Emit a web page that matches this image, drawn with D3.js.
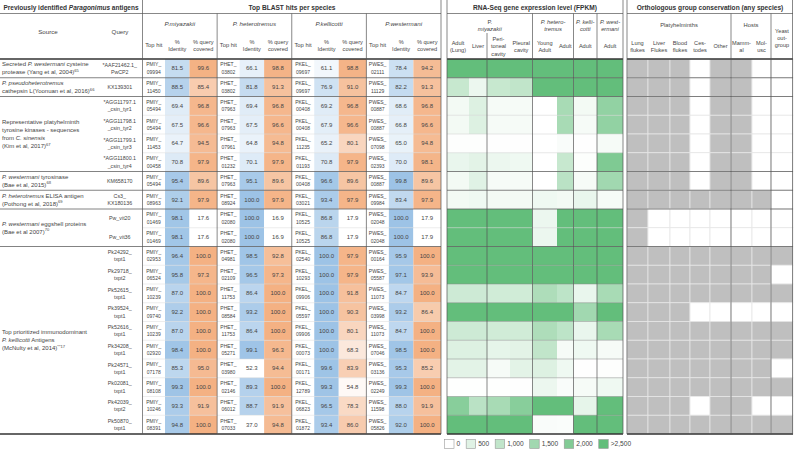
<!DOCTYPE html>
<html><head><meta charset="utf-8">
<script src="https://cdn.jsdelivr.net/npm/d3@7"></script>
<style>body{margin:0;background:#fff} svg{display:block;font-family:"Liberation Sans",Arial,sans-serif}</style>
</head><body><svg id="c" width="794" height="451"></svg>
<script>
// ---------------- DATA ----------------
const sourceLabels = [
  ["Secreted <i>P. westermani</i> cysteine", "protease (Yang et al, 2004)^65"],
  ["<i>P. pseudoheterotremus</i>", "cathepsin L(Yoonuan et al, 2016)^66"],
  ["Representative platyhelminth", "tyrosine kinases - sequences", "from <i>C. sinensis</i>", "(Kim et al, 2017)^67"],
  ["<i>P. westermani</i> tyrosinase", "(Bae et al, 2015)^68"],
  ["<i>P. heterotremus</i> ELISA antigen", "(Pothong et al, 2018)^69"],
  ["<i>P. westermani</i> eggshell proteins", "(Bae et al 2007)^70"],
  ["Top prioritized immunodominant", "<i>P. kellicotti</i> Antigens", "(McNulty et al, 2014)^**17"]
];
const sourceSpans = [1, 1, 4, 1, 1, 2, 10];
const queries = ["*AAF21462.1_|PwCP2", "KX139301", "*AGG11797.1|_csin_tyr1", "*AGG11798.1|_csin_tyr2",
  "*AGG11799.1|_csin_tyr3", "*AGG11800.1|_csin_tyr4", "KM658170", "Cs3_|KX180136", "Pw_vit20", "Pw_vit36",
  "Pk24292_|txpt1", "Pk29718_|txpt2", "Pk52615_|txpt1", "Pk39524_|txpt1", "Pk52616_|txpt1", "Pk34208_|txpt1",
  "Pk24571_|txpt1", "Pk02081_|txpt1", "Pk42039_|txpt2", "Pk50870_|txpt1"];

const speciesNames = ["P.miyazakii", "P. heterotremus", "P.kellicotti", "P.westermani"];
const hitPrefixes = ["PMIY_", "PHET_", "PKEL_", "PWES_"];

const miyHits = ["09994","11450","05494","05494","11453","00458","05494","08963","01469","01469","02953","06524","10239","09740","10239","02920","07178","08108","10246","08391"];
const miyIdentity = [81.5,88.5,69.4,67.5,64.7,70.8,95.4,92.1,98.1,98.1,96.4,95.8,87.0,92.2,87.0,98.4,85.3,99.3,93.3,94.8];
const miyCoverage = [99.6,85.4,96.8,96.6,94.5,97.9,89.6,97.9,17.6,17.6,100.0,97.3,100.0,100.0,100.0,100.0,95.0,100.0,91.9,100.0];

const hetHits = ["03802","03802","07963","07963","07961","01232","07963","08924","02080","02080","04981","02109","11753","08584","11753","05271","03980","02146","06012","07033"];
const hetIdentity = [66.1,81.8,69.4,67.5,64.8,70.1,95.1,100.0,100.0,100.0,98.5,96.5,86.4,93.2,86.4,99.1,52.3,89.3,88.7,37.0];
const hetCoverage = [98.8,91.3,96.8,96.6,94.8,97.9,89.6,97.9,16.9,16.9,92.8,97.3,100.0,100.0,100.0,96.3,94.4,100.0,91.9,94.8];

const kelHits = ["09697","09697","00408","00408","11235","01193","00408","03021","10525","10525","02540","10293","09906","05597","09906","00073","00171","12789","06823","01872"];
const kelIdentity = [61.1,76.9,69.2,67.9,65.2,70.8,96.6,93.4,86.8,86.8,100.0,100.0,100.0,100.0,100.0,100.0,99.6,99.3,96.5,93.4];
const kelCoverage = [98.8,91.0,96.8,96.6,80.1,97.9,89.6,97.9,17.9,17.9,97.9,97.9,91.8,90.3,80.1,68.3,83.9,54.8,78.3,86.0];

const wesHits = ["02111","11129","00887","00887","07098","02393","00887","09984","02048","02048","00164","05587","11073","03998","11073","07046","03136","02249","11598","05826"];
const wesIdentity = [78.4,82.2,68.6,66.8,65.0,70.0,99.8,83.4,100.0,100.0,95.9,97.1,84.7,93.2,84.7,98.5,95.3,99.3,88.0,92.0];
const wesCoverage = [94.2,91.3,96.8,96.6,94.8,98.1,89.6,97.9,17.9,17.9,100.0,93.9,100.0,86.4,100.0,100.0,85.2,100.0,91.9,100.0];

const rnaSpecies = [["P.", "<i>miyazakii</i>"], ["<i>P. hetero-</i>", "<i>tremus</i>"], ["<i>P. kelli-</i>", "<i>cotti</i>"], ["<i>P. west-</i>", "<i>ermani</i>"]];
const rnaCols = [["Adult", "(Lung)"], ["Liver"], ["Peri-", "toneal", "cavity"], ["Pleural", "cavity"], ["Young", "Adult"], ["Adult"], ["Adult"], ["Adult"]];
const fpkm = [
  [3000,3000,3000,3000,3000,3000,3000,3000],
  [900,300,900,1000,3000,3000,3000,3000],
  [200,550,150,150,0,1400,200,1750],
  [200,550,150,150,0,1400,150,1750],
  [30,30,20,20,0,100,20,150],
  [350,450,300,250,0,900,50,2050],
  [200,500,150,150,0,1100,150,1500],
  [200,250,200,200,250,200,350,150],
  [3000,3000,3000,3000,300,3000,3000,3000],
  [3000,3000,3000,3000,300,3000,3000,3000],
  [3000,3000,3000,3000,3000,3000,3000,3000],
  [3000,3000,3000,3000,3000,3000,2700,3000],
  [800,800,750,750,1300,1050,350,1400],
  [3000,3000,3000,3000,3000,3000,1500,3000],
  [800,800,750,750,1300,1050,350,1400],
  [550,550,400,450,1000,150,250,150],
  [450,450,150,450,550,250,20,30],
  [10,10,10,20,300,100,150,250],
  [1900,1100,1400,1900,3000,3000,400,3000],
  [3000,3000,3000,3000,100,80,3000,3000]
];
const legendValues = [0, 500, 1000, 1500, 2000, 2500];
const legendLabels = ["0", "500", "1,000", "1,500", "2,000", ">2,500"];

const orthoCols = [["Lung", "flukes"], ["Liver", "Flukes"], ["Blood", "flukes"], ["Ces-", "todes"], ["Other"], ["Mamm-", "al"], ["Mol-", "usc"], ["Yeast", "out-", "group"]];
const orthoPresence = ["11101100","11101100","11101100","11101100","11101100","11101100","11101100","11111110",
  "10000000","10000000","11111111","11111110","11111111","11100000","11111111","11111111","11111110","11111111","11101100","11111111"];

// ---------------- LAYOUT ----------------
const svg = d3.select("#c");
const TXT = "#454545", LINE = "#555";
const top0 = 59, bot0 = 434, titleLine = 13.5;
const y = d3.scaleBand().domain(d3.range(queries.length)).range([top0, bot0]);
const rh = y.bandwidth();
const xQuery = 97, xBlast = 142.5, xT1 = 441;
const xG = d3.scaleBand().domain(speciesNames).range([xBlast, xT1]);
const gw = xG.bandwidth();
const subX = [0, 22.5, 47, gw];
const rnaEdges = [447, 469, 487, 510, 532.5, 557, 573.5, 597, 623];
const orthoEdges = [627, 648, 670, 690, 710, 731, 752, 771, 793];

const identColor = d3.scaleLinear().domain([55, 100]).range(["#ffffff", "#9dc3e6"]).clamp(true);
const coverColor = d3.scaleLinear().domain([50, 75, 100]).range(["#ffffff", "#fae0cf", "#f4b183"]).clamp(true);
const green = d3.scaleLinear().domain([0, 2500]).range(["#ffffff", "#63be7b"]).clamp(true);

function rich(t, str, size) {
  str.split(/(<i>[^<]*<\/i>|\^\S+)/).filter(s => s && s.length).forEach(p => {
    if (p.startsWith("<i>")) t.append("tspan").attr("font-style", "italic").text(p.slice(3, -4));
    else if (p.startsWith("^")) t.append("tspan").attr("font-size", size * 0.68).attr("dy", -size * 0.42).text(p.slice(1));
    else t.append("tspan").text(p);
  });
}
function mtext(x, yc, lines, o = {}) {
  const size = o.size || 6, lh = o.lh || 7.4, n = lines.length;
  lines.forEach((ln, i) => {
    const t = svg.append("text").attr("x", x).attr("y", yc + (i - (n - 1) / 2) * lh).attr("dy", "0.35em")
      .attr("text-anchor", o.anchor || "middle").attr("font-size", size).attr("fill", o.fill || TXT)
      .attr("font-weight", o.weight || "normal").attr("font-style", o.style || "normal");
    rich(t, ln, size);
  });
}
function hline(x1, x2, yy, c, w) { svg.append("line").attr("x1", x1).attr("x2", x2).attr("y1", yy).attr("y2", yy).attr("stroke", c).attr("stroke-width", w); }
function vline(xx, y1, y2, c, w) { svg.append("line").attr("x1", xx).attr("x2", xx).attr("y1", y1).attr("y2", y2).attr("stroke", c).attr("stroke-width", w); }

// ---------------- TABLE 1: sources + BLAST ----------------
const hits = [miyHits, hetHits, kelHits, wesHits];
const idents = [miyIdentity, hetIdentity, kelIdentity, wesIdentity];
const covers = [miyCoverage, hetCoverage, kelCoverage, wesCoverage];
const f1 = d3.format(".1f");
speciesNames.forEach((sp, i) => {
  const gx = xG(sp);
  queries.forEach((q, r) => {
    const yy = y(r);
    svg.append("rect").attr("x", gx + subX[1]).attr("y", yy).attr("width", subX[2] - subX[1]).attr("height", rh).attr("fill", identColor(idents[i][r]));
    svg.append("rect").attr("x", gx + subX[2]).attr("y", yy).attr("width", subX[3] - subX[2]).attr("height", rh).attr("fill", coverColor(covers[i][r]));
    mtext(gx + (subX[0] + subX[1]) / 2, yy + rh / 2, [hitPrefixes[i], hits[i][r]], { size: 5, lh: 7.6 });
    mtext(gx + (subX[1] + subX[2]) / 2, yy + rh / 2, [f1(idents[i][r])], { size: 6 });
    mtext(gx + (subX[2] + subX[3]) / 2, yy + rh / 2, [f1(covers[i][r])], { size: 6 });
  });
  mtext(gx + gw / 2, 24, ["<i>" + sp + "</i>"], { size: 6.2 });
  mtext(gx + (subX[0] + subX[1]) / 2, 45, ["Top hit"], { size: 5.8 });
  mtext(gx + (subX[1] + subX[2]) / 2, 45.5, ["%", "Identity"], { size: 5.6, lh: 7.2 });
  mtext(gx + (subX[2] + subX[3]) / 2, 45.5, ["% query", "covered"], { size: 5.6, lh: 7.2 });
});
queries.forEach((q, r) => {
  mtext((xQuery + xBlast) / 2, y(r) + rh / 2, q.split("|"), { size: 5.3, lh: 7.4 });
});
let acc = 0;
const groupBounds = [];
sourceSpans.forEach((s, gi) => {
  const y1 = y(acc), y2 = y(acc) + s * rh;
  mtext(2, (y1 + y2) / 2, sourceLabels[gi], { size: 6, lh: 8, anchor: "start" });
  groupBounds.push(acc);
  acc += s;
});
mtext(71, 8, ["Previously identified <i>Paragonimus</i>  antigens"], { size: 6.5, weight: "bold", fill: "#333" });
mtext(292, 8, ["Top BLAST hits per species"], { size: 6.6, weight: "bold", fill: "#333" });
mtext(48, 32, ["Source"], { size: 6.2 });
mtext(120, 32, ["Query"], { size: 6.2 });

// ---------------- TABLE 2: RNA-seq ----------------
fpkm.forEach((row, r) => row.forEach((v, j) => {
  svg.append("rect").attr("x", rnaEdges[j]).attr("y", y(r)).attr("width", rnaEdges[j + 1] - rnaEdges[j]).attr("height", rh).attr("fill", green(v));
}));
mtext(535, 8, ["RNA-Seq gene expression level (FPKM)"], { size: 6.6, weight: "bold", fill: "#333" });
const rnaSpBounds = [[0, 4], [4, 6], [6, 7], [7, 8]];
rnaSpecies.forEach((s, k) => {
  const cx = (rnaEdges[rnaSpBounds[k][0]] + rnaEdges[rnaSpBounds[k][1]]) / 2;
  mtext(cx, 25, s, { size: 5.8, lh: 7 });
});
rnaCols.forEach((c, j) => {
  mtext((rnaEdges[j] + rnaEdges[j + 1]) / 2, 46.5, c, { size: 5.6, lh: 7.3 });
});

// ---------------- TABLE 3: orthologs ----------------
orthoPresence.forEach((row, r) => row.split("").forEach((v, j) => {
  svg.append("rect").attr("x", orthoEdges[j]).attr("y", y(r)).attr("width", orthoEdges[j + 1] - orthoEdges[j]).attr("height", rh)
    .attr("fill", v === "1" ? "#bfbfbf" : "#ffffff").attr("stroke", "#e6e6e6").attr("stroke-width", 0.8);
}));
mtext(710, 8, ["Orthologous group conservation (any species)"], { size: 6.6, weight: "bold", fill: "#333" });
mtext((orthoEdges[0] + orthoEdges[5]) / 2, 24.5, ["Platyhelminths"], { size: 5.8 });
mtext((orthoEdges[5] + orthoEdges[7]) / 2, 24.5, ["Hosts"], { size: 5.8 });
orthoCols.forEach((c, j) => {
  const yc = j === 7 ? 38 : 46.5;
  mtext((orthoEdges[j] + orthoEdges[j + 1]) / 2, yc, c, { size: 5.6, lh: 7.3 });
});

// ---------------- GRID LINES ----------------
const sections = [[0, xT1], [rnaEdges[0], rnaEdges[8]], [orthoEdges[0], orthoEdges[8]]];
d3.range(1, queries.length).forEach(r => {
  if (groupBounds.includes(r)) return;
  hline(xBlast, xT1, y(r), "#dadada", 0.5);
  hline(rnaEdges[0], rnaEdges[8], y(r), r >= 10 ? "#8a8a8a" : "#cfcfcf", 0.5);
});
groupBounds.slice(1).forEach(r => sections.forEach(s => hline(s[0], s[1], y(r), "#5a5a5a", 0.75)));
sections.forEach(s => { hline(s[0], s[1], titleLine, LINE, 0.7); hline(s[0], s[1], top0, "#333", 1.4); hline(s[0], s[1], bot0, "#333", 1.4); });
[xBlast, xT1, rnaEdges[0], rnaEdges[8], orthoEdges[0], orthoEdges[8] - 0.5].forEach(xx => vline(xx, 0, bot0, LINE, 0.7));
speciesNames.slice(1).forEach(sp => vline(xG(sp), titleLine, bot0, LINE, 0.7));
[rnaEdges[4], rnaEdges[6], rnaEdges[7]].forEach(xx => vline(xx, titleLine, bot0, LINE, 0.7));
vline(rnaEdges[2], 33, bot0, LINE, 0.7);
[orthoEdges[5], orthoEdges[7]].forEach(xx => vline(xx, titleLine, bot0, LINE, 0.7));

// ---------------- LEGEND ----------------
let lx = 444;
legendValues.forEach((v, k) => {
  svg.append("rect").attr("x", lx + 0.5).attr("y", 439.5).attr("width", 9.5).attr("height", 9).attr("fill", green(v)).attr("stroke", "#999").attr("stroke-width", 0.6);
  const t = svg.append("text").attr("x", lx + 12.5).attr("y", 444).attr("dy", "0.35em").attr("font-size", 6.6).attr("fill", TXT).text(legendLabels[k]);
  lx += 12.5 + t.node().getComputedTextLength() + 5.5;
});
</script></body></html>
